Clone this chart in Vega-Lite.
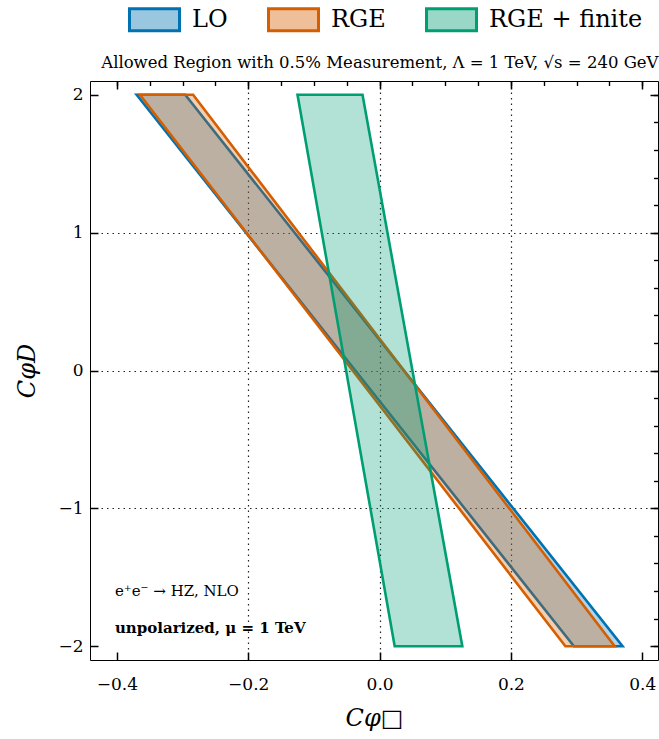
{
  "$schema": "https://vega.github.io/schema/vega-lite/v6.json",
  "width": 568,
  "height": 579,
  "autosize": "none",
  "padding": {"left": 90, "top": 81, "right": 1, "bottom": 79},
  "config": {
    "font": "DejaVu Serif",
    "view": {"stroke": null}
  },
  "datasets": {
    "polys": [
      {"series": "LO", "y": 2, "xl": -0.370, "xr": -0.296},
      {"series": "LO", "y": -2, "xl": 0.296, "xr": 0.370},
      {"series": "RGE", "y": 2, "xl": -0.365, "xr": -0.284},
      {"series": "RGE", "y": -2, "xl": 0.283, "xr": 0.358},
      {"series": "RGE + finite", "y": 2, "xl": -0.125, "xr": -0.026},
      {"series": "RGE + finite", "y": -2, "xl": 0.023, "xr": 0.126}
    ],
    "notes": [
      {"x": -0.403, "y": -1.6, "text": "e⁺e⁻ → HZ,  NLO", "bold": false},
      {"x": -0.403, "y": -1.87, "text": "unpolarized,  μ = 1 TeV", "bold": true}
    ]
  },
  "layer": [
    {
      "data": {"name": "polys"},
      "mark": {"type": "area", "orient": "horizontal", "fillOpacity": 0.3, "strokeWidth": 2.6, "strokeJoin": "miter"},
      "encoding": {
        "y": {
          "field": "y", "type": "quantitative",
          "scale": {"domain": [-2.1, 2.1], "nice": false, "zero": false},
          "axis": {
            "title": "CφD",
            "titleFontStyle": "italic", "titleFontWeight": "normal", "titleFontSize": 24, "titleColor": "black",
            "titlePadding": 18,
            "values": [-2, -1, 0, 1, 2],
            "format": ".0f",
            "labelFontSize": 17, "labelColor": "black",
            "labelPadding": 15,
            "tickSize": -8, "tickColor": "#000000", "tickWidth": 1.5,
            "domainColor": "black",
            "grid": true,
            "gridColor": "#222",
            "gridDash": [1.5, 4],
            "gridWidth": 1.2,
            "gridOpacity": {"condition": {"test": "abs(datum.value) < 1.99", "value": 1}, "value": 0}
          }
        },
        "x": {
          "field": "xl", "type": "quantitative",
          "scale": {"domain": [-0.441, 0.424], "nice": false, "zero": false},
          "axis": {
            "title": "Cφ□",
            "titleFontStyle": "italic", "titleFontWeight": "normal", "titleFontSize": 24, "titleColor": "black",
            "titlePadding": 14,
            "values": [-0.4, -0.2, 0, 0.2, 0.4],
            "format": ".1f",
            "labelFontSize": 17, "labelColor": "black",
            "labelPadding": 24,
            "tickSize": -8, "tickColor": "#000000", "tickWidth": 1.5,
            "domainColor": "black",
            "grid": true,
            "gridColor": "#222",
            "gridDash": [1.5, 4],
            "gridWidth": 1.2,
            "gridOpacity": {"condition": {"test": "abs(datum.value) < 0.39", "value": 1}, "value": 0}
          }
        },
        "x2": {"field": "xr"},
        "fill": {
          "field": "series", "type": "nominal",
          "scale": {"domain": ["LO", "RGE", "RGE + finite"], "range": ["#0072B2", "#D55E00", "#009E73"]},
          "legend": {
            "orient": "none", "legendX": 38, "legendY": -88, "direction": "horizontal",
            "title": null,
            "symbolType": "M-1,-0.44H1V0.44H-1Z",
            "symbolSize": 2500,
            "symbolStrokeWidth": 3,
            "labelFontSize": 24,
            "labelOffset": 11,
            "columnPadding": 34,
            "labelColor": "black",
            "encode": {"symbols": {"update": {"fillOpacity": {"value": 0.4}, "opacity": {"value": 1}}}}
          }
        },
        "stroke": {
          "field": "series", "type": "nominal",
          "scale": {"domain": ["LO", "RGE", "RGE + finite"], "range": ["#0072B2", "#D55E00", "#009E73"]},
          "legend": {
            "orient": "none", "legendX": 38, "legendY": -88, "direction": "horizontal",
            "title": null,
            "symbolType": "M-1,-0.44H1V0.44H-1Z",
            "symbolSize": 2500,
            "symbolStrokeWidth": 3,
            "labelFontSize": 24,
            "labelOffset": 11,
            "columnPadding": 34,
            "labelColor": "black",
            "encode": {"symbols": {"update": {"fillOpacity": {"value": 0.4}, "opacity": {"value": 1}}}}
          }
        }
      }
    },
    {
      "data": {"name": "polys"},
      "mark": {"type": "point", "opacity": 0},
      "encoding": {
        "y": {
          "field": "y", "type": "quantitative",
          "scale": {"domain": [-2.1, 2.1], "nice": false, "zero": false},
          "axis": {
            "title": null, "labels": false, "grid": false, "domain": false,
            "values": [-2,-1.8,-1.6,-1.4,-1.2,-1,-0.8,-0.6,-0.4,-0.2,0,0.2,0.4,0.6,0.8,1,1.2,1.4,1.6,1.8,2],
            "tickSize": -4.5, "tickColor": "#000000", "tickWidth": 1.2
          }
        },
        "x": {
          "field": "xl", "type": "quantitative",
          "scale": {"domain": [-0.441, 0.424], "nice": false, "zero": false},
          "axis": {
            "title": null, "labels": false, "grid": false, "domain": false,
            "values": [-0.4,-0.35,-0.3,-0.25,-0.2,-0.15,-0.1,-0.05,0,0.05,0.1,0.15,0.2,0.25,0.3,0.35,0.4],
            "tickSize": -4.5, "tickColor": "#000000", "tickWidth": 1.2
          }
        }
      }
    },
    {
      "data": {"name": "polys"},
      "mark": {"type": "point", "opacity": 0},
      "encoding": {
        "y": {
          "field": "y", "type": "quantitative",
          "scale": {"domain": [-2.1, 2.1], "nice": false, "zero": false},
          "axis": {
            "orient": "right", "title": null, "labels": false, "grid": false,
            "values": [-2, -1, 0, 1, 2],
            "tickSize": -8, "tickColor": "#000000", "tickWidth": 1.5,
            "domainColor": "black"
          }
        },
        "x": {
          "field": "xl", "type": "quantitative",
          "scale": {"domain": [-0.441, 0.424], "nice": false, "zero": false},
          "axis": {
            "orient": "top", "labels": false, "grid": false,
            "title": "Allowed Region with 0.5% Measurement,  Λ = 1 TeV,  √s = 240 GeV",
            "titleAnchor": "end", "titleFontWeight": "normal", "titleFontSize": 16.5, "titlePadding": 10, "titleColor": "black",
            "values": [-0.4, -0.2, 0, 0.2, 0.4],
            "tickSize": -8, "tickColor": "#000000", "tickWidth": 1.5,
            "domainColor": "black"
          }
        }
      }
    },
    {
      "data": {"name": "polys"},
      "mark": {"type": "point", "opacity": 0},
      "encoding": {
        "y": {
          "field": "y", "type": "quantitative",
          "scale": {"domain": [-2.1, 2.1], "nice": false, "zero": false},
          "axis": {
            "orient": "right", "title": null, "labels": false, "grid": false, "domain": false,
            "values": [-2,-1.8,-1.6,-1.4,-1.2,-1,-0.8,-0.6,-0.4,-0.2,0,0.2,0.4,0.6,0.8,1,1.2,1.4,1.6,1.8,2],
            "tickSize": -4.5, "tickColor": "#000000", "tickWidth": 1.2
          }
        },
        "x": {
          "field": "xl", "type": "quantitative",
          "scale": {"domain": [-0.441, 0.424], "nice": false, "zero": false},
          "axis": {
            "orient": "top", "title": null, "labels": false, "grid": false, "domain": false,
            "values": [-0.4,-0.35,-0.3,-0.25,-0.2,-0.15,-0.1,-0.05,0,0.05,0.1,0.15,0.2,0.25,0.3,0.35,0.4],
            "tickSize": -4.5, "tickColor": "#000000", "tickWidth": 1.2
          }
        }
      }
    },
    {
      "data": {"name": "notes"},
      "transform": [{"filter": "!datum.bold"}],
      "mark": {"type": "text", "align": "left", "baseline": "middle", "fontSize": 15, "color": "black"},
      "encoding": {
        "x": {"field": "x", "type": "quantitative", "axis": null},
        "y": {"field": "y", "type": "quantitative", "axis": null},
        "text": {"field": "text"}
      }
    },
    {
      "data": {"name": "notes"},
      "transform": [{"filter": "datum.bold"}],
      "mark": {"type": "text", "align": "left", "baseline": "middle", "fontSize": 15, "fontWeight": "bold", "color": "black"},
      "encoding": {
        "x": {"field": "x", "type": "quantitative", "axis": null},
        "y": {"field": "y", "type": "quantitative", "axis": null},
        "text": {"field": "text"}
      }
    }
  ],
  "resolve": {"axis": {"x": "independent", "y": "independent"}}
}
